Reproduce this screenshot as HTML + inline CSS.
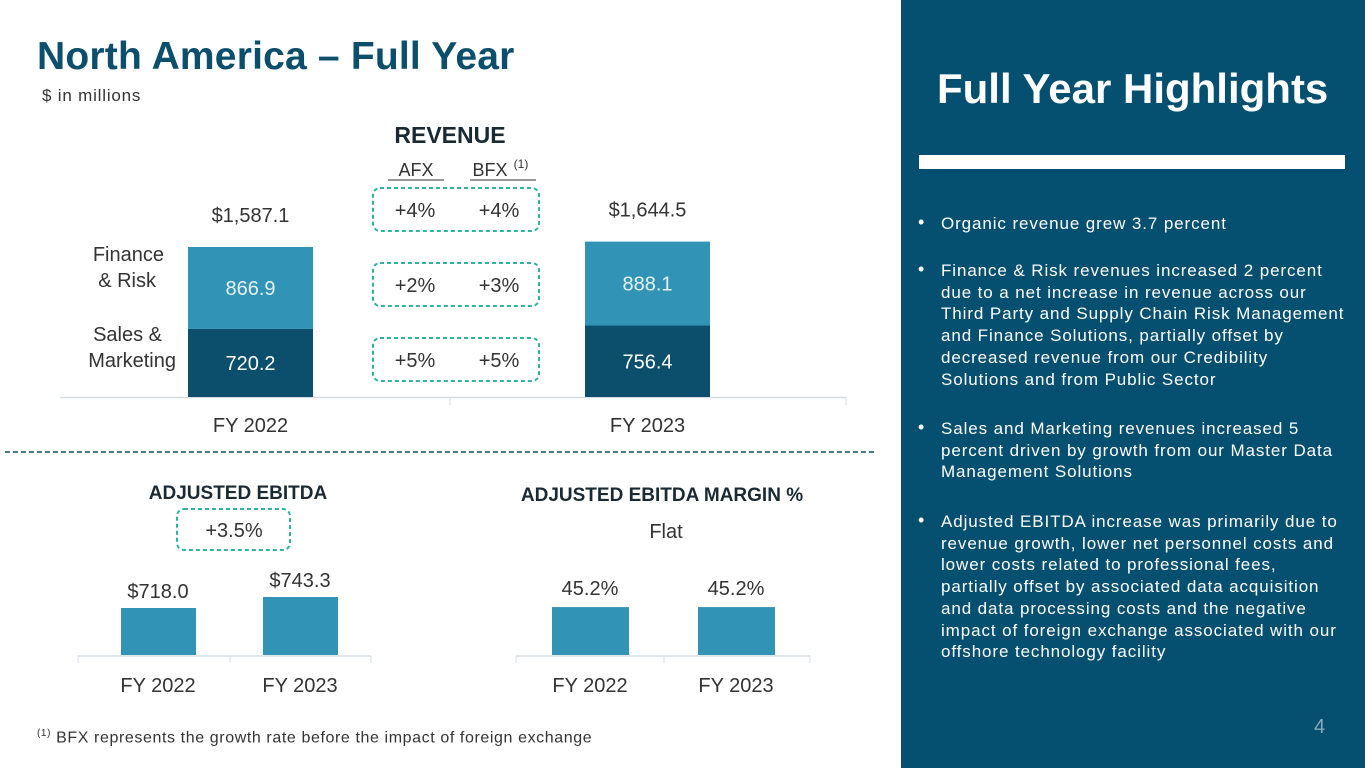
<!DOCTYPE html>
<html><head><meta charset="utf-8">
<style>
body{margin:0;width:1365px;height:768px;overflow:hidden;background:#fff;font-family:"Liberation Sans",sans-serif;position:relative}
.abs{position:absolute;white-space:nowrap}
#panel{position:absolute;left:901px;top:0;width:464px;height:768px;background:#054f70}
.bl{position:absolute;left:40px;color:#fff;font-size:17px;letter-spacing:0.9px;line-height:20px;white-space:nowrap}
.dot{position:absolute;left:17px;color:#fff;font-size:18px}
</style></head><body>
<div class="abs" style="left:37px;top:35px;font-size:39px;font-weight:bold;color:#0b4f6c;letter-spacing:0.2px">North America – Full Year</div>
<div class="abs" style="left:42px;top:86px;font-size:17px;letter-spacing:0.8px;color:#333">$ in millions</div>

<svg id="chart" width="900" height="768" style="position:absolute;left:0;top:0" xmlns="http://www.w3.org/2000/svg" font-family="Liberation Sans, sans-serif"></svg>

<div id="panel">
<div class="abs" style="left:36px;top:65px;font-size:42px;font-weight:bold;color:#fff">Full Year Highlights</div>
<div class="abs" style="left:18px;top:155px;width:426px;height:14px;background:#fff"></div>
<div id="bullets"></div>
</div>
<div class="abs" style="left:1314px;top:716px;font-size:20px;color:#8aa9b9">4</div>
<div class="abs" style="left:37px;top:728px;font-size:16px;letter-spacing:0.6px;color:#333"><sup style="font-size:10px">(1)</sup> BFX represents the growth rate before the impact of foreign exchange</div>

<script>
const NS="http://www.w3.org/2000/svg";
const svg=document.getElementById('chart');
function mk(t,a,txt){const e=document.createElementNS(NS,t);for(const k in a)e.setAttribute(k,a[k]);if(txt!==undefined)e.textContent=txt;svg.appendChild(e);return e;}
const DARK="#0b4f6c",LIGHT="#3193b5",TEXT="#333";

// Revenue data
const revCategories=["FY 2022","FY 2023"];
const salesMarketing=[720.2,756.4];
const financeRisk=[866.9,888.1];
const revTotals=["$1,587.1","$1,644.5"];
// EBITDA data
const ebitdaCategories=["FY 2022","FY 2023"];
const ebitdaValues=[718.0,743.3];
const ebitdaLabels=["$718.0","$743.3"];
// Margin data
const marginCategories=["FY 2022","FY 2023"];
const marginValues=[45.2,45.2];
const marginLabels=["45.2%","45.2%"];
// growth boxes
const growthAFX=["+4%","+2%","+5%"];
const growthBFX=["+4%","+3%","+5%"];

// Revenue chart
const revBase=397, revK=0.0945, revX=c=>[188,585][c];
mk('text',{x:450,y:143,'text-anchor':'middle','font-size':23,'font-weight':'bold',fill:'#1a2a33'},'REVENUE');
mk('line',{x1:60,y1:397.5,x2:846,y2:397.5,stroke:'#d5dde2','stroke-width':1.5});
mk('line',{x1:450,y1:397,x2:450,y2:405,stroke:'#d5dde2'});
mk('line',{x1:846,y1:397,x2:846,y2:405,stroke:'#d5dde2'});
revCategories.forEach((c,i)=>{
  const x=revX(i),w=125;
  const h1=salesMarketing[i]*revK,h2=financeRisk[i]*revK;
  let r=mk('rect',{x:x,y:revBase-h1,width:w,height:h1,fill:DARK});
  r=mk('rect',{x:x,y:revBase-h1-h2,width:w,height:h2,fill:LIGHT});
  mk('text',{x:x+w/2,y:revBase-h1/2+7,'text-anchor':'middle','font-size':20,fill:'#fff'},salesMarketing[i].toFixed(1));
  mk('text',{x:x+w/2,y:revBase-h1-h2/2+7,'text-anchor':'middle','font-size':20,fill:'#e6f0f5'},financeRisk[i].toFixed(1));
  mk('text',{x:x+w/2,y:revBase-h1-h2-25,'text-anchor':'middle','font-size':20,fill:TEXT},revTotals[i]);
  mk('text',{x:x+w/2,y:432,'text-anchor':'middle','font-size':20,fill:TEXT},c);
});
mk('text',{x:164,y:261,'text-anchor':'end','font-size':20,fill:TEXT},'Finance');
mk('text',{x:156,y:287,'text-anchor':'end','font-size':20,fill:TEXT},'& Risk');
mk('text',{x:162,y:341,'text-anchor':'end','font-size':20,fill:TEXT},'Sales &');
mk('text',{x:176,y:367,'text-anchor':'end','font-size':20,fill:TEXT},'Marketing');
mk('text',{x:416,y:176,'text-anchor':'middle','font-size':18,fill:TEXT},'AFX');
mk('text',{x:490,y:176,'text-anchor':'middle','font-size':18,fill:TEXT},'BFX');
mk('text',{x:521,y:168,'text-anchor':'middle','font-size':12,fill:TEXT},'(1)');
mk('line',{x1:388,y1:180,x2:444,y2:180,stroke:TEXT});
mk('line',{x1:470,y1:180,x2:536,y2:180,stroke:TEXT});
const boxY=[188,263,338];
growthAFX.forEach((g,i)=>{
  const b=mk('rect',{x:373,y:boxY[i],width:166,height:43,rx:7,fill:'none',stroke:'#2fb3a0','stroke-width':2,'stroke-dasharray':'4 3'});
  
  mk('text',{x:415,y:boxY[i]+29,'text-anchor':'middle','font-size':20,fill:TEXT},g);
  mk('text',{x:499,y:boxY[i]+29,'text-anchor':'middle','font-size':20,fill:TEXT},growthBFX[i]);
});
mk('line',{x1:5,y1:452,x2:876,y2:452,stroke:'#0b4f6c','stroke-width':1.5,'stroke-dasharray':'5 3'});

// EBITDA chart
const eBase=655, eK=0.435, eMin=610, eX=i=>[121,263][i];
mk('text',{x:238,y:499,'text-anchor':'middle','font-size':19,'font-weight':'bold',fill:'#1a2a33'},'ADJUSTED EBITDA');
mk('rect',{x:177,y:509,width:113,height:41,rx:7,fill:'none',stroke:'#2fb3a0','stroke-width':2,'stroke-dasharray':'4 3'});
mk('text',{x:234,y:537,'text-anchor':'middle','font-size':20,fill:TEXT},'+3.5%');
mk('line',{x1:78,y1:656,x2:371,y2:656,stroke:'#d5dde2','stroke-width':1.5});
[78,230,371].forEach(x=>mk('line',{x1:x,y1:656,x2:x,y2:663,stroke:'#d5dde2'}));
ebitdaCategories.forEach((c,i)=>{
  const h=(ebitdaValues[i]-eMin)*eK,x=eX(i);
  const r=mk('rect',{x:x,y:eBase-h,width:75,height:h,fill:LIGHT});
  mk('text',{x:x+37,y:eBase-h-10,'text-anchor':'middle','font-size':20,fill:TEXT},ebitdaLabels[i]);
  mk('text',{x:x+37,y:692,'text-anchor':'middle','font-size':20,fill:TEXT},c);
});
// Margin chart
const mBase=655, mK=1.06, mX=i=>[552,698][i];
mk('text',{x:662,y:501,'text-anchor':'middle','font-size':19,'font-weight':'bold',fill:'#1a2a33'},'ADJUSTED EBITDA MARGIN %');
mk('text',{x:666,y:538,'text-anchor':'middle','font-size':20,fill:TEXT},'Flat');
mk('line',{x1:516,y1:656,x2:810,y2:656,stroke:'#d5dde2','stroke-width':1.5});
[516,664,810].forEach(x=>mk('line',{x1:x,y1:656,x2:x,y2:663,stroke:'#d5dde2'}));
marginCategories.forEach((c,i)=>{
  const h=marginValues[i]*mK,x=mX(i);
  const r=mk('rect',{x:x,y:mBase-h,width:77,height:h,fill:LIGHT});
  mk('text',{x:x+38,y:mBase-h-12,'text-anchor':'middle','font-size':20,fill:TEXT},marginLabels[i]);
  mk('text',{x:x+38,y:692,'text-anchor':'middle','font-size':20,fill:TEXT},c);
});

// Bullets
const bullets=[
 [213,["Organic revenue grew 3.7 percent"]],
 [260,["Finance & Risk revenues increased 2 percent","due to a net increase in revenue across our","Third Party and Supply Chain Risk Management","and Finance Solutions, partially offset by","decreased revenue from our Credibility","Solutions and from Public Sector"]],
 [418,["Sales and Marketing revenues increased 5","percent driven by growth from our Master Data","Management Solutions"]],
 [511,["Adjusted EBITDA increase was primarily due to","revenue growth, lower net personnel costs and","lower costs related to professional fees,","partially offset by associated data acquisition","and data processing costs and the negative","impact of foreign exchange associated with our","offshore technology facility"]]
];
const bc=document.getElementById('bullets');
bullets.forEach((b,i)=>{
  const d=document.createElement('div');d.className='dot';d.style.top=(b[0]-1)+'px';d.textContent='•';
  bc.appendChild(d);
  const t=document.createElement('div');t.className='bl';t.style.top=b[0]+'px';t.style.lineHeight='21.7px';
  
  
  t.innerHTML=b[1].join('<br>');bc.appendChild(t);
});
</script>
</body></html>
